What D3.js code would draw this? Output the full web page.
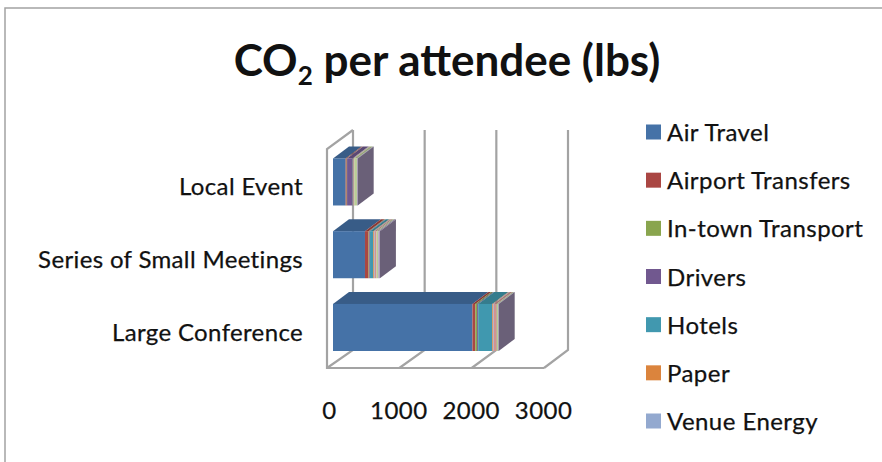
<!DOCTYPE html>
<html>
<head>
<meta charset="utf-8">
<script src="https://d3js.org/d3.v7.min.js"></script>
<style>
  html, body { margin: 0; padding: 0; background: #fff; }
  svg { display: block; }
  text { font-family: Lato, "Open Sans", sans-serif; fill: #111; }
  .label { font-size: 24px; letter-spacing: 0.45px; stroke: #111; stroke-width: 0.25px; }
  .cat { letter-spacing: 0.35px; }
</style>
</head>
<body>
<svg id="chart" width="882" height="462"></svg>
<script>
const categories = ["Local Event", "Series of Small Meetings", "Large Conference"];
const legendNames = ["Air Travel", "Airport Transfers", "In-town Transport", "Drivers", "Hotels", "Paper", "Venue Energy"];
const tickValues = [0, 1000, 2000, 3000];

// one value per category, same order as categories
const airTravel = [175, 443, 1932];
const airportTransfers = [15, 50, 40];
const inTownTransport = [5, 10, 25];
const drivers = [75, 10, 15];
const hotels = [5, 45, 195];
const paper = [5, 10, 10];
const venueEnergy = [5, 10, 10];
// three more series are in the stacks, but the legend is cut off before them
const extraA = [10, 25, 40];
const extraB = [37, 25, 20];
const extraC = [10, 22, 9];

const seriesValues = [airTravel, airportTransfers, inTownTransport, drivers, hotels, paper, venueEnergy, extraA, extraB, extraC];
const seriesColors = ["#4572a7", "#aa4643", "#89a54e", "#71588f", "#4198af", "#db843d", "#93a9cf", "#d19392", "#b9cd96", "#a99bbd"];

const svg = d3.select("#chart");

const defs = svg.append("defs");
defs.append("filter").attr("id", "soft")
  .append("feGaussianBlur").attr("stdDeviation", 0.7);

// frame
svg.append("path")
  .attr("d", "M882,8 H5 V462")
  .attr("fill", "none")
  .attr("stroke", "#a3a3a3")
  .attr("stroke-width", 1.5);

// title
const title = svg.append("text")
  .attr("x", 447)
  .attr("y", 76)
  .attr("text-anchor", "middle")
  .style("font-size", "44px")
  .style("font-weight", 700);
title.append("tspan").text("CO");
title.append("tspan").attr("dy", 9).style("font-size", "26px").text("2");
title.append("tspan").attr("dy", -9).text(" per attendee (lbs)");

// the 3d box: front plane, back plane, and the plane the bars start on
const xFront = d3.scaleLinear().domain([0, 3000]).range([327, 544]);
const xBack = d3.scaleLinear().domain([0, 3000]).range([353, 568]);
const xBar = d3.scaleLinear().domain([0, 3000]).range([333, 549.5]);
const y = d3.scaleBand().domain(categories).range([145.6, 363.8]).paddingInner(0.353).paddingOuter(0.176);

const wallTop = 130, wallBottom = 350, frontTop = 149, frontBottom = 368;
const depthX = 16, depthY = -12;

const plot = svg.append("g").attr("filter", "url(#soft)");
const box = plot.append("g")
  .attr("fill", "none")
  .attr("stroke", "#a3a3a3")
  .attr("stroke-width", 2.2);

box.selectAll(".grid")
  .data(tickValues)
  .join("path")
  .attr("class", "grid")
  .attr("d", d => `M${xBack(d)},${wallTop} V${wallBottom} L${xFront(d)},${frontBottom}`);

box.append("path")
  .attr("d", `M${xBack(0)},${wallTop} L${xFront(0)},${frontTop} V${frontBottom} H${xFront(3000)}`);

// stacked bars
const rows = categories.map((c, i) => {
  const row = { category: c };
  seriesValues.forEach((vals, s) => { row[s] = vals[i]; });
  return row;
});
const stacked = d3.stack().keys(seriesValues.map((v, s) => s))(rows);

const bars = plot.append("g");
stacked.forEach((layer, s) => {
  bars.selectAll(`.top-${s}`)
    .data(layer)
    .join("path")
    .attr("class", `top-${s}`)
    .attr("d", d => {
      const x0 = xBar(d[0]), x1 = xBar(d[1]), t = y(d.data.category);
      return `M${x0},${t} L${x0 + depthX},${t + depthY} L${x1 + depthX},${t + depthY} L${x1},${t} Z`;
    })
    .attr("fill", d3.color(seriesColors[s]).darker(0.6));

  bars.selectAll(`.front-${s}`)
    .data(layer)
    .join("rect")
    .attr("class", `front-${s}`)
    .attr("x", d => xBar(d[0]))
    .attr("y", d => y(d.data.category))
    .attr("width", d => xBar(d[1]) - xBar(d[0]))
    .attr("height", y.bandwidth())
    .attr("fill", seriesColors[s]);
});

// right side of each bar belongs to the last series
bars.selectAll(".side")
  .data(stacked[stacked.length - 1])
  .join("path")
  .attr("class", "side")
  .attr("d", d => {
    const x1 = xBar(d[1]), t = y(d.data.category), b = t + y.bandwidth();
    return `M${x1},${t} L${x1 + depthX},${t + depthY} L${x1 + depthX},${b + depthY} L${x1},${b} Z`;
  })
  .attr("fill", "#6b6178");

// category labels
svg.selectAll(".cat")
  .data(categories)
  .join("text")
  .attr("class", "cat label")
  .attr("x", 303)
  .attr("y", d => y(d) + y.bandwidth() / 2 + 13.5)
  .attr("text-anchor", "end")
  .text(d => d);

// value axis labels
const xAxis = svg.append("g")
  .attr("transform", "translate(-1,402)")
  .call(d3.axisBottom(xFront).tickValues(tickValues).tickFormat(d3.format("d")).tickSize(0).tickPadding(0));
xAxis.select(".domain").remove();
xAxis.selectAll("text")
  .attr("class", "label")
  .attr("fill", "#111")
  .attr("dx", d => d === 0 ? 3 : 0)
  .style("font-family", "Lato, sans-serif");

// legend
const legendY = d3.scalePoint().domain(legendNames).range([132, 421]);
const legend = svg.selectAll(".legend")
  .data(legendNames)
  .join("g")
  .attr("class", "legend")
  .attr("transform", d => `translate(646,${legendY(d)})`);
legend.append("rect")
  .attr("y", -7.5)
  .attr("width", 15)
  .attr("height", 15)
  .attr("fill", (d, i) => seriesColors[i]);
legend.append("text")
  .attr("class", "label")
  .attr("x", 21)
  .attr("y", 9)
  .text(d => d);
</script>
</body>
</html>
